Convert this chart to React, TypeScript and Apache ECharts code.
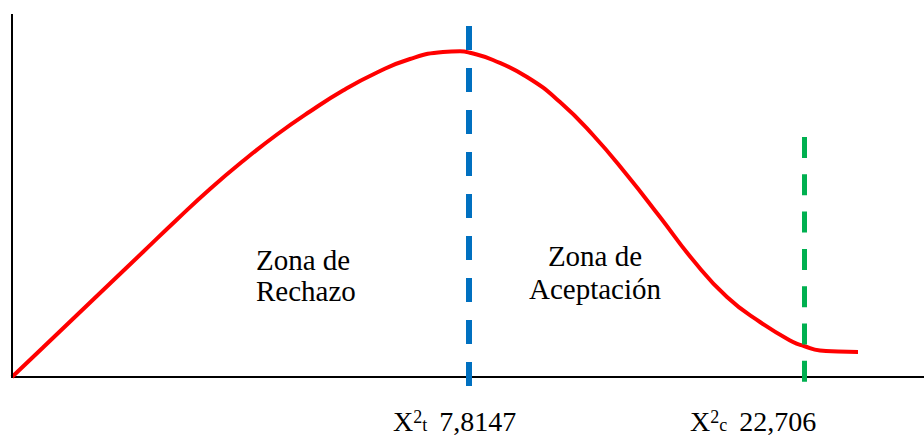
import React, { useEffect, useRef } from "react";
import * as echarts from "echarts";

// Curve (x: position along the horizontal axis, y: height above it)
const curveX = [0, 31, 65, 98, 131, 165, 198, 231, 265, 298, 331, 365, 398, 431, 448, 458, 481, 515, 548, 581, 615, 648, 681, 715, 748, 781, 792, 808, 826, 846];
const curveY = [0, 29.5, 62, 93.5, 125, 157.5, 188, 216, 242.5, 265.5, 286.5, 304.5, 318, 325, 325.7, 324.2, 317, 300, 275, 242, 202, 160, 117, 80, 55, 35, 31, 26.5, 25.5, 25];

// Critical values and their positions along the horizontal axis
const criticalLabels = ["7,8147", "22,706"];
const criticalSubs = ["t", "c"];
const criticalPos = [457, 792];
const criticalTop = [351, 240];
const criticalBottom = [-9, -6];
const criticalColors = ["#0070C0", "#00B050"];

const zoneLabels = ["Zona de\nRechazo", "Zona de\nAceptación"];

const FONT = "Liberation Serif, Times New Roman, serif";

export default function App() {
  const ref = useRef<HTMLDivElement>(null);
  useEffect(() => {
    if (!ref.current) return;
    const chart = echarts.init(ref.current, undefined, { renderer: "svg" });
    const data = curveX.map((x, i) => [x, curveY[i]]);
    const richStyles = {
      x: { fontSize: 28, fontFamily: FONT, color: "#000", lineHeight: 26 },
      n: { fontSize: 28, fontFamily: FONT, color: "#000", lineHeight: 26, padding: [0, 0, 0, 5] },
      sup: { fontSize: 18, fontFamily: FONT, color: "#000", lineHeight: 18, verticalAlign: "top" },
      sub: { fontSize: 18, fontFamily: FONT, color: "#000", lineHeight: 18, verticalAlign: "bottom" },
    };
    chart.setOption({
      animation: false,
      backgroundColor: "#fff",
      grid: { left: 12, top: 14, right: 0, bottom: 46 },
      xAxis: {
        type: "value",
        min: 0,
        max: 912,
        axisLine: { show: true, onZero: true, lineStyle: { color: "#000", width: 2 } },
        axisTick: { show: false },
        axisLabel: { show: false },
        splitLine: { show: false },
      },
      yAxis: {
        type: "value",
        min: -12,
        max: 363,
        axisLine: { show: false },
        axisTick: { show: false },
        axisLabel: { show: false },
        splitLine: { show: false },
      },
      series: [
        {
          type: "line",
          data,
          showSymbol: false,
          smooth: 0.5,
          lineStyle: { color: "#FF0000", width: 4 },
          z: 3,
          markLine: {
            silent: true,
            symbol: ["none", "none"],
            label: { show: false },
            data: [
              [
                { coord: [0, 363], lineStyle: { color: "#000", width: 2, type: "solid" } },
                { coord: [0, -1] },
              ],
              ...criticalPos.map((p, i) => [
                {
                  coord: [p, criticalTop[i]],
                  lineStyle: {
                    color: criticalColors[i],
                    width: i === 0 ? 6 : 5,
                    type: i === 0 ? [24, 18] : [21, 16.3],
                  },
                },
                { coord: [p, criticalBottom[i]] },
              ]),
            ],
          },
        },
      ],
      graphic: [
        {
          type: "text",
          x: 256,
          y: 244,
          style: {
            text: zoneLabels[0],
            fontSize: 29,
            fontFamily: FONT,
            fill: "#000",
            lineHeight: 31,
            align: "left",
            verticalAlign: "top",
          },
        },
        {
          type: "text",
          x: 595,
          y: 239,
          style: {
            text: zoneLabels[1],
            fontSize: 29,
            fontFamily: FONT,
            fill: "#000",
            lineHeight: 33,
            align: "center",
            verticalAlign: "top",
          },
        },
        ...criticalLabels.map((lab, i) => ({
          type: "text",
          x: i === 0 ? 393 : 690,
          y: 408,
          style: {
            text: `{x|X}{sup|2}{sub|${criticalSubs[i]}}{n| ${lab}}`,
            rich: richStyles,
            align: "left",
            verticalAlign: "top",
          },
        })),
      ],
    });
    return () => chart.dispose();
  }, []);
  return (
    <div
      ref={ref}
      style={{ position: "absolute", left: 0, top: 0, width: 924, height: 435 }}
    />
  );
}
